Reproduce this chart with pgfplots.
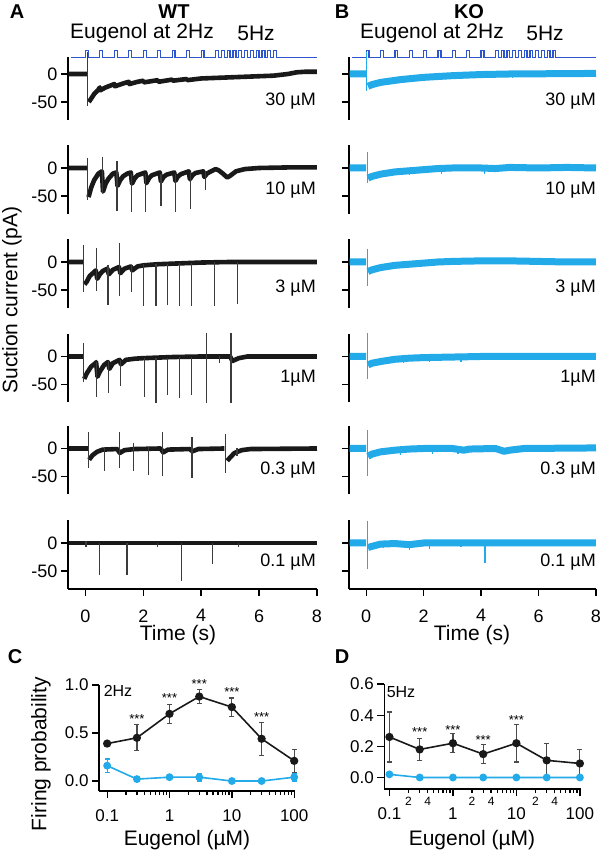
\documentclass[border=0pt]{standalone}
\usepackage{fontspec}
\setmainfont{Liberation Sans}
\usepackage{pgfplots}
\usepackage{pgfplotstable}
\pgfplotsset{compat=1.18}

\definecolor{tk}{RGB}{25,25,25}
\definecolor{tb}{RGB}{35,170,232}
\definecolor{stim}{RGB}{45,85,205}
\newcommand{\fs}[1]{\fontsize{#1}{#1}\selectfont}

\pgfplotsset{
 trace/.style={scale only axis, anchor=south west, width=249pt, height=68.88pt,
   xmin=-0.6, xmax=8, ymin=-82, ymax=41,
   axis y line=left, axis x line=bottom, axis line style={-, line width=1.5pt, black},
   x axis line style={draw=none},
   ytick={-50,0}, yticklabels={-50,0}, xtick=\empty, tick align=outside,
   major tick length=7pt, tick style={line width=1.4pt, black}, clip=false,
   unbounded coords=jump, tick label style={font=\fs{18}},
   xticklabel style={yshift=-10pt}},
 firstrow/.style={ymax=30, height=62.72pt},
 rightcol/.style={width=247pt, yticklabels={,,}},
 lastrow/.style={x axis line style={draw=black}, xtick={0,2,4,6,8}, xticklabels={0,2,4,6,8}},
 dose/.style={scale only axis, anchor=south west,
   axis x line=bottom, axis y line=left, axis line style={-, line width=1.5pt, black},
   xtick={0.1,1,10,100}, xticklabels={0.1,1,10,100},
   minor xtick={0.2,0.3,0.4,0.5,0.6,0.7,0.8,0.9,2,3,4,5,6,7,8,9,20,30,40,50,60,70,80,90},
   tick align=outside, major tick length=7pt, minor tick length=4pt,
   tick style={line width=1.3pt, black}, tick label style={font=\fs{17}},
   xticklabel style={yshift=-8pt}, clip=false},
}
\tikzset{
 bandK/.style={tk, line width=4.6pt, line join=round},
 spkK/.style={tk!85, line width=1.2pt},
 bandB/.style={tb, line width=7pt, line join=round},
 spkB/.style={tb, line width=1.3pt},
 stimL/.style={stim, line width=1.3pt},
 wt/.style={tk, line width=1.6pt, mark=*, mark size=3.3pt, mark options={solid}},
 ko/.style={tb, line width=1.6pt, mark=*, mark size=3.1pt},
}

\pgfplotstableread{
t s
-0.48 30
0 30
0 42
0.1 42
0.1 30
0.5 30
0.5 42
0.6 42
0.6 30
1 30
1 42
1.1 42
1.1 30
1.5 30
1.5 42
1.6 42
1.6 30
2 30
2 42
2.1 42
2.1 30
2.5 30
2.5 42
2.6 42
2.6 30
3 30
3 42
3.1 42
3.1 30
3.5 30
3.5 42
3.6 42
3.6 30
4 30
4 42
4.1 42
4.1 30
4.5 30
4.5 42
4.6 42
4.6 30
4.7 30
4.7 42
4.8 42
4.8 30
4.9 30
4.9 42
5.0 42
5.0 30
5.1 30
5.1 42
5.2 42
5.2 30
5.3 30
5.3 42
5.4 42
5.4 30
5.5 30
5.5 42
5.6 42
5.6 30
5.7 30
5.7 42
5.8 42
5.8 30
5.9 30
5.9 42
6.0 42
6.0 30
6.1 30
6.1 42
6.2 42
6.2 30
6.3 30
6.3 42
6.4 42
6.4 30
6.5 30
6.5 42
6.6 42
6.6 30
8 30
}\stimtab

\begin{document}
\begin{tikzpicture}[font=\fs{21}]

% ---------------- WT column ----------------
\begin{axis}[trace, firstrow, at={(68pt,-119.9pt)}]
\addplot[stimL] table[x=t,y=s] {\stimtab};
\addplot[bandK] coordinates {(-0.58,0) (0.05,0) (0.05,nan) (0.12,-50) (0.2,-44) (0.3,-36) (0.45,-28) (0.5,-24) (0.52,-29) (0.7,-24) (1.0,-18) (1.02,-22) (1.3,-17) (1.5,-14) (1.52,-18) (1.8,-14) (2.0,-12) (2.02,-15) (2.5,-11) (2.52,-14) (3.0,-10) (3.02,-12) (3.5,-9) (3.52,-11) (4.0,-8) (4.5,-7) (5.0,-6) (5.5,-5) (6.0,-4) (6.5,-3) (7.0,0) (7.3,3) (7.6,4) (8,4)};
\addplot[spkK] coordinates {(0.08,40) (0.08,-58)};
\end{axis}

\begin{axis}[trace, at={(68pt,-213.9pt)}]
\addplot[bandK] coordinates {(-0.58,0) (0.06,0) (0.06,nan) (0.11,-52) (0.2,-35) (0.3,-22) (0.45,-10) (0.57,-6) (0.61,-42) (0.7,-28) (0.8,-19) (0.95,-10) (1.07,-8) (1.11,-32) (1.2,-22) (1.3,-15) (1.45,-10) (1.57,-8) (1.61,-28) (1.7,-19) (1.8,-13) (2.07,-8) (2.11,-27) (2.2,-18) (2.3,-13) (2.57,-8) (2.61,-24) (2.7,-16) (2.8,-12) (3.07,-8) (3.11,-23) (3.2,-15) (3.3,-11) (3.57,-6) (3.61,-20) (3.7,-13) (3.8,-9) (4.07,-6) (4.11,-16) (4.2,-10) (4.3,-7) (4.5,-2) (4.6,-4) (4.75,-10) (4.9,-17) (5.0,-14) (5.2,-6) (5.5,-2) (6,0) (7,1) (8,1)};
\addplot[spkK] coordinates {(0.08,18) (0.08,-57) (0.08,nan) (0.58,20) (0.58,-45) (0.58,nan) (1.09,12) (1.09,-77) (1.09,nan) (1.59,-10) (1.59,-79) (1.59,nan) (2.09,-10) (2.09,-78) (2.09,nan) (2.61,-10) (2.61,-68) (2.61,nan) (3.10,-10) (3.10,-78) (3.10,nan) (3.64,-8) (3.64,-74) (3.64,nan) (4.16,-6) (4.16,-40)};
\end{axis}

\begin{axis}[trace, at={(68pt,-307.9pt)}]
\addplot[bandK] coordinates {(-0.58,0) (-0.08,0) (-0.08,nan) (-0.03,-40) (0.05,-35) (0.15,-25) (0.3,-18) (0.36,-15) (0.41,-30) (0.5,-22) (0.6,-16) (0.76,-12) (0.81,-22) (0.95,-14) (1.16,-9) (1.21,-20) (1.35,-12) (1.57,-8) (1.62,-15) (1.8,-8) (2.0,-6) (2.5,-4) (3.0,-3) (3.5,-2) (4,-1) (5,0) (8,0)};
\addplot[spkK] coordinates {(-0.06,30) (-0.06,-54) (-0.06,nan) (0.38,25) (0.38,-52) (0.38,nan) (0.78,-5) (0.78,-77) (0.78,nan) (1.18,34) (1.18,-60) (1.18,nan) (1.59,-5) (1.59,-54) (1.59,nan) (2.01,-3) (2.01,-78) (2.01,nan) (2.44,-3) (2.44,-78) (2.44,nan) (2.84,-3) (2.84,-77) (2.84,nan) (3.24,-2) (3.24,-78) (3.24,nan) (3.66,-2) (3.66,-79) (3.66,nan) (4.46,0) (4.46,-79) (4.46,nan) (5.26,0) (5.26,-75)};
\end{axis}

\begin{axis}[trace, at={(68pt,-402.4pt)}]
\addplot[bandK] coordinates {(-0.58,0) (-0.08,0) (-0.08,nan) (-0.04,-40) (0.05,-30) (0.2,-18) (0.35,-12) (0.37,-10) (0.42,-36) (0.5,-27) (0.65,-15) (0.78,-10) (0.83,-22) (0.95,-12) (1.18,-6) (1.23,-14) (1.4,-6) (1.7,-4) (2.0,-3) (2.5,-2) (3,-1) (4,0) (5.0,0) (5.08,-8) (5.3,-3) (5.6,0) (8,0)};
\addplot[spkK] coordinates {(-0.06,24) (-0.06,-45) (-0.06,nan) (0.38,-10) (0.38,-72) (0.38,nan) (0.80,-8) (0.80,-65) (0.80,nan) (1.20,-6) (1.20,-53) (1.20,nan) (2.03,-3) (2.03,-72) (2.03,nan) (2.44,-2) (2.44,-83) (2.44,nan) (2.84,-2) (2.84,-69) (2.84,nan) (3.24,-1) (3.24,-75) (3.24,nan) (3.66,-1) (3.66,-68) (3.66,nan) (4.19,42) (4.19,-83) (4.19,nan) (4.63,0) (4.63,-12) (4.63,nan) (5.02,42) (5.02,-83) (5.02,nan) (5.05,42) (5.05,-83)};
\end{axis}

\begin{axis}[trace, at={(68pt,-494.4pt)}]
\addplot[bandK] coordinates {(-0.58,0) (0.09,0) (0.09,nan) (0.13,-20) (0.25,-12) (0.4,-6) (0.6,-2) (1.1,-1) (1.19,-8) (1.35,-3) (1.7,-1) (2.6,0) (2.69,-7) (2.85,-2) (3.6,-1) (3.7,-5) (3.9,-1) (4.8,0) (4.83,nan) (4.9,-22) (5.0,-16) (5.15,-8) (5.4,-3) (5.7,-1) (8,0)};
\addplot[spkK] coordinates {(0.11,30) (0.11,-35) (0.11,nan) (0.65,3) (0.65,-40) (0.65,nan) (1.17,29) (1.17,-35) (1.17,nan) (1.67,10) (1.67,-40) (1.67,nan) (2.18,3) (2.18,-47) (2.18,nan) (2.67,30) (2.67,-50) (2.67,nan) (3.68,20) (3.68,-52) (3.68,nan) (4.85,25) (4.85,-44) (4.85,nan) (5.24,0) (5.24,-13)};
\end{axis}

\begin{axis}[trace, lastrow, at={(68pt,-588.9pt)}]
\addplot[bandK] coordinates {(-0.58,0) (8,0)};
\addplot[spkK] coordinates {(0.48,0) (0.48,-58) (0.48,nan) (1.44,0) (1.44,-57) (1.44,nan) (3.33,0) (3.33,-67) (3.33,nan) (4.39,0) (4.39,-37) (4.39,nan) (0.02,3) (0.02,-8) (0.02,nan) (2.5,0) (2.5,-8) (2.5,nan) (5.3,0) (5.3,-7)};
\end{axis}

% ---------------- KO column ----------------
\begin{axis}[trace, firstrow, rightcol, at={(349pt,-119.9pt)}]
\addplot[stimL] table[x=t,y=s] {\stimtab};
\addplot[bandB] coordinates {(-0.58,0) (0.0,0) (0.0,nan) (0.06,-22) (0.2,-19) (0.5,-15) (1.2,-10) (2,-6) (3,-3) (4,-1) (5,0) (8,1)};
\addplot[spkB] coordinates {(0.02,40) (0.02,-30) (0.02,nan) (3.2,-1) (3.2,-8) (3.2,nan) (5.1,0) (5.1,-7)};
\end{axis}

\begin{axis}[trace, rightcol, at={(349pt,-213.9pt)}]
\addplot[bandB] coordinates {(-0.58,0) (0.0,0) (0.0,nan) (0.06,-18) (0.2,-15) (0.5,-11) (1.0,-7) (1.5,-5) (2,-3) (2.5,-1) (3,0) (4,0) (4.5,-1) (5,1) (6,0) (7,1) (8,0)};
\addplot[spkB] coordinates {(0.04,29) (0.04,-27) (0.04,nan) (2.63,-1) (2.63,-11) (2.63,nan) (4.12,0) (4.12,-10) (4.12,nan) (1.5,-5) (1.5,-12)};
\end{axis}

\begin{axis}[trace, rightcol, at={(349pt,-307.9pt)}]
\addplot[bandB] coordinates {(-0.58,0) (0.0,0) (0.0,nan) (0.06,-17) (0.2,-14) (0.5,-10) (1.0,-6) (1.5,-4) (2,-2) (2.5,0) (3,1) (4,2) (5,2) (6,1) (7,0) (8,0)};
\addplot[spkB] coordinates {(0.04,24) (0.04,-43) (0.04,nan) (1.3,-5) (1.3,-11)};
\end{axis}

\begin{axis}[trace, rightcol, at={(349pt,-402.4pt)}]
\addplot[bandB] coordinates {(-0.58,0) (0.0,0) (0.0,nan) (0.06,-15) (0.2,-12) (0.5,-9) (1,-5) (1.5,-3) (2,-2) (3,-1) (4,0) (8,0)};
\addplot[spkB] coordinates {(0.04,42) (0.04,-40) (0.04,nan) (1.3,-4) (1.3,-11) (1.3,nan) (2.2,-2) (2.2,-10) (2.2,nan) (3.3,-1) (3.3,-9)};
\end{axis}

\begin{axis}[trace, rightcol, at={(349pt,-494.4pt)}]
\addplot[bandB] coordinates {(-0.58,0) (0.0,0) (0.0,nan) (0.06,-14) (0.2,-10) (0.5,-6) (1,-3) (1.5,-1) (2,0) (3,0) (3.4,-3) (3.6,-1) (4.5,0) (4.8,-5) (5.0,-3) (5.5,0) (8,1)};
\addplot[spkB] coordinates {(0.04,33) (0.04,-50) (0.04,nan) (1.2,-3) (1.2,-11) (1.2,nan) (2.3,0) (2.3,-10) (2.3,nan) (3.2,-1) (3.2,-9)};
\end{axis}

\begin{axis}[trace, rightcol, lastrow, at={(349pt,-588.9pt)}]
\addplot[bandB] coordinates {(-0.58,0) (0.0,0) (0.0,nan) (0.06,-8) (0.2,-6) (0.5,-2) (1,-1) (1.5,-3) (2,0) (8,0)};
\addplot[spkB] coordinates {(0.04,40) (0.04,-47) (0.04,nan) (4.14,0) (4.14,-35) (4.14,nan) (0.6,-2) (0.6,-9) (0.6,nan) (1.5,-3) (1.5,-12) (1.5,nan) (2.2,0) (2.2,-10) (2.2,nan) (3.3,0) (3.3,-8)};
\end{axis}

% ---------------- C ----------------
\begin{semilogxaxis}[dose, at={(99pt,-791pt)}, width=196pt, height=106pt,
  xmin=0.074, xmax=103, ymin=-0.104, ymax=1.0,
  ytick={0,0.5,1}, yticklabels={0.0,0.5,1.0}]
\addplot[wt, error bars/.cd, y dir=both, y explicit,
  error bar style={line width=1.2pt, black!70},
  error mark options={rotate=90, mark size=2.5pt, line width=1.2pt, black!70}]
 coordinates {(0.1,0.39) +- (0,0.02) (0.3,0.45) +- (0,0.135) (1,0.70) +- (0,0.10) (3,0.88) +- (0,0.07) (10,0.77) +- (0,0.095) (30,0.44) +- (0,0.17) (100,0.21) +- (0,0.12)};
\addplot[ko, error bars/.cd, y dir=both, y explicit,
  error bar style={line width=1.2pt, tb},
  error mark options={rotate=90, mark size=2.5pt, line width=1.2pt, tb}]
 coordinates {(0.1,0.16) +- (0,0.07) (0.3,0.02) +- (0,0.01) (1,0.04) +- (0,0.015) (3,0.04) +- (0,0.04) (10,0.0) +- (0,0.01) (30,0.0) +- (0,0.01) (100,0.04) +- (0,0.04)};
\node[font=\fs{13}] at (axis cs:0.3,0.65) {***};
\node[font=\fs{13}] at (axis cs:1,0.865) {***};
\node[font=\fs{13}] at (axis cs:3,1.01) {***};
\node[font=\fs{13}] at (axis cs:10,0.93) {***};
\node[font=\fs{13}] at (axis cs:30,0.67) {***};
\end{semilogxaxis}

% ---------------- D ----------------
\begin{semilogxaxis}[dose, at={(384.3pt,-789pt)}, width=196.4pt, height=105pt,
  xmin=0.083, xmax=103, ymin=-0.074, ymax=0.6,
  ytick={0,0.2,0.4,0.6}, yticklabels={0.0,0.2,0.4,0.6}]
\addplot[wt, error bars/.cd, y dir=both, y explicit,
  error bar style={line width=1.2pt, black!70},
  error mark options={rotate=90, mark size=2.5pt, line width=1.2pt, black!70}]
 coordinates {(0.1,0.26) +- (0,0.16) (0.3,0.18) +- (0,0.07) (1,0.22) +- (0,0.06) (3,0.15) +- (0,0.06) (10,0.22) +- (0,0.12) (30,0.11) +- (0,0.11) (100,0.09) +- (0,0.09)};
\addplot[ko] coordinates {(0.1,0.02) (0.3,0.0) (1,0.0) (3,0.0) (10,0.0) (30,0.0) (100,0.0)};
\node[font=\fs{13}] at (axis cs:0.3,0.29) {***};
\node[font=\fs{13}] at (axis cs:1,0.305) {***};
\node[font=\fs{13}] at (axis cs:3,0.24) {***};
\node[font=\fs{13}] at (axis cs:10,0.37) {***};
\node[font=\fs{12}, yshift=-12pt] at (axis cs:0.2,-0.074) {2};
\node[font=\fs{12}, yshift=-12pt] at (axis cs:0.4,-0.074) {4};
\node[font=\fs{12}, yshift=-12pt] at (axis cs:2,-0.074) {2};
\node[font=\fs{12}, yshift=-12pt] at (axis cs:4,-0.074) {4};
\node[font=\fs{12}, yshift=-12pt] at (axis cs:20,-0.074) {2};
\node[font=\fs{12}, yshift=-12pt] at (axis cs:40,-0.074) {4};
\end{semilogxaxis}

% ---------------- text ----------------
\node[font=\fs{20}\bfseries] at (17pt,-12pt) {A};
\node[font=\fs{20}\bfseries] at (174pt,-12pt) {WT};
\node[font=\fs{20}\bfseries] at (342pt,-12pt) {B};
\node[font=\fs{20}\bfseries] at (469pt,-12pt) {KO};
\node[anchor=west, inner sep=0pt] at (70pt,-33pt) {Eugenol at 2Hz};
\node at (256pt,-33pt) {5Hz};
\node[anchor=west, inner sep=0pt] at (360pt,-33pt) {Eugenol at 2Hz};
\node at (545pt,-33pt) {5Hz};

\foreach \y/\l in {101/30 µM,190/10 µM,288/3 µM,378/1µM,470/0.3 µM,562/0.1 µM}{
  \node[anchor=east, font=\fs{18}, inner sep=0pt] at (316pt,-\y pt) {\l};
  \node[anchor=east, font=\fs{18}, inner sep=0pt] at (596pt,-\y pt) {\l};
}
\node[rotate=90] at (12pt,-300pt) {Suction current (pA)};
\node at (178pt,-635pt) {Time (s)};
\node at (472pt,-635pt) {Time (s)};

\node[font=\fs{20}\bfseries] at (15pt,-657pt) {C};
\node[font=\fs{20}\bfseries] at (342pt,-657pt) {D};
\node[font=\fs{16}] at (118pt,-691pt) {2Hz};
\node[font=\fs{16}] at (401pt,-692pt) {5Hz};
\node[rotate=90] at (41pt,-754pt) {Firing probability};
\node at (187pt,-840pt) {Eugenol (µM)};
\node at (472pt,-840pt) {Eugenol (µM)};

\pgfresetboundingbox
\path[use as bounding box] (0,0) rectangle (602pt,-852pt);
\end{tikzpicture}
\end{document}
